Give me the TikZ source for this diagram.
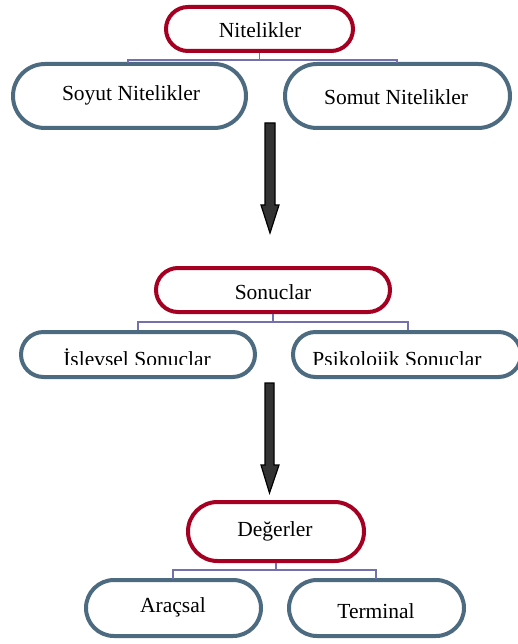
\documentclass[tikz,border=0pt]{standalone}
\usepackage{fontspec}
\setmainfont{Liberation Serif}
\definecolor{headred}{HTML}{A50021}
\definecolor{itemblue}{HTML}{4D6B80}
\definecolor{linkviolet}{HTML}{7470B0}
\definecolor{arrowgray}{HTML}{333333}
\tikzset{
  x=1pt, y=-1pt,
  pill/.style={draw, line width=4pt, fill=white, rectangle, inner sep=0pt},
  headpill/.style={pill, draw=headred},
  itempill/.style={pill, draw=itemblue},
  link/.style={draw=linkviolet, line width=1.4pt},
  blockarrow/.style={fill=arrowgray, draw=black, line width=1.2pt, line join=miter},
  label/.style={inner sep=0pt, font=\fontsize{21.5}{24}\selectfont}
}
\newcommand{\pillbox}[6]{% name, style, x1, y1, x2, y2
  \node[#2, minimum width=#5-#3, minimum height=#6-#4,
        rounded corners={(#6-#4)/2}] (#1) at ({(#3+#5)/2},{(#4+#6)/2}) {};}
\begin{document}
\begin{tikzpicture}
\useasboundingbox (0,0) rectangle (517,644);

% ---- level 1: attributes ----
\pillbox{nit}{headpill}{166}{7}{353}{51}
\node[label] (nitT) at (260,30) {Nitelikler};
\pillbox{soyut}{itempill}{13}{64}{246}{128}
\node[label] (soyutT) at (131,95) {Soyut Nitelikler};
\pillbox{somut}{itempill}{285}{64}{510}{128}
\node[label] (somutT) at (396,97) {Somut Nitelikler};
\path (nit.south) ++(0,7) coordinate (j1);
\draw[link] (nit.south) -- (j1);
\draw[link] (128,63) |- (j1) -| (397,63);

% ---- level 2: consequences ----
\pillbox{son}{headpill}{156}{268}{390}{312}
\node[label] (sonT) at (273,292) {Sonuclar};
\pillbox{islev}{itempill}{21}{332}{255}{377}
\pillbox{psiko}{itempill}{293}{332}{521}{377}
\begin{scope}
  \clip (0,330) rectangle (517,364);
  \node[label] (islevT) at (137,358) {İslevsel Sonuclar};
  \node[label] (psikoT) at (397,361) {Psikolojik Sonuclar};
\end{scope}
\path (son.south) ++(0,8) coordinate (j2);
\draw[link] (son.south) -- (j2);
\draw[link] (138,330) |- (j2) -| (408,330);

% ---- level 3: values ----
\pillbox{deg}{headpill}{188}{502}{364}{561}
\node[label] (degT) at (275,531) {Değerler};
\pillbox{arac}{itempill}{86}{580}{261}{636}
\node[label] (aracT) at (173,607) {Araçsal};
\pillbox{term}{itempill}{289}{580}{464}{636}
\node[label] (termT) at (376,611) {Terminal};
\path (deg.south) ++(0,7) coordinate (j3);
\draw[link] (deg.south) -- (j3);
\draw[link] (173,579) |- (j3) -| (376,579);

% ---- block arrows between levels ----
\path[blockarrow] (265,123) -- (275,123) -- (275,205) -- (279,205)
  -- (270,233) -- (261,205) -- (265,205) -- cycle;
\path[blockarrow] (265,383) -- (274,383) -- (274,465) -- (279,465)
  -- (269.5,493) -- (261,465) -- (265,465) -- cycle;
\end{tikzpicture}
\end{document}
